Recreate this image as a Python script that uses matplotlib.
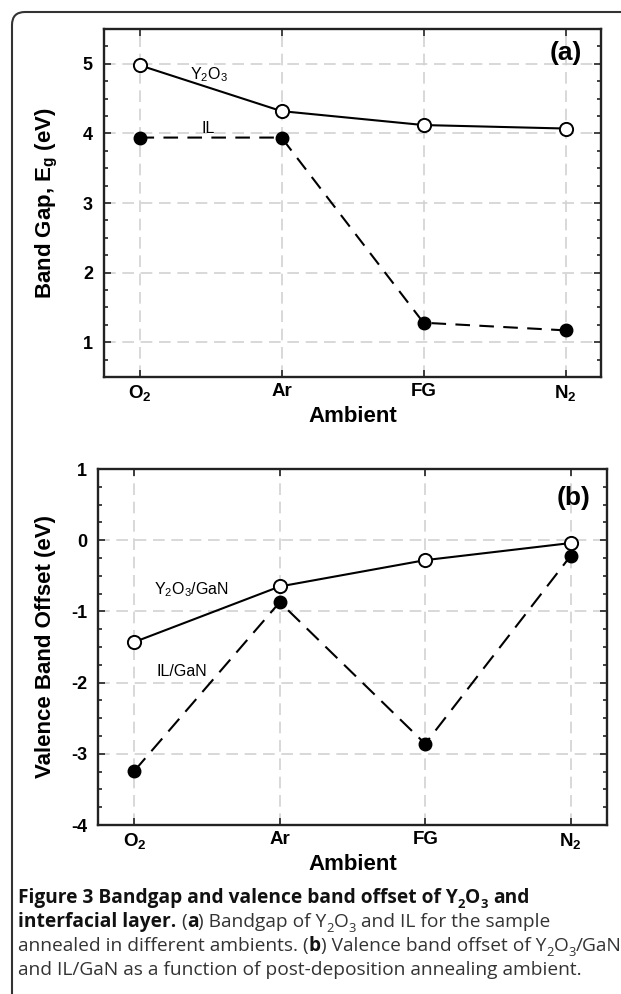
import matplotlib
matplotlib.use('Agg')
import matplotlib.pyplot as plt
import numpy as np
from matplotlib.ticker import MultipleLocator, FixedLocator, FormatStrFormatter
from matplotlib.patches import FancyBboxPatch
from matplotlib.transforms import IdentityTransform

# ---------------- data ----------------
categories = [r'O$_\mathbf{2}$', 'Ar', 'FG', r'N$_\mathbf{2}$']
bandgap_y2o3 = [4.98, 4.32, 4.12, 4.07]
bandgap_il = [3.94, 3.94, 1.28, 1.17]
vbo_y2o3 = [-1.43, -0.65, -0.28, -0.04]
vbo_il = [-3.24, -0.87, -2.86, -0.22]
yticks_a = [1, 2, 3, 4, 5]
yticks_b = [-4, -3, -2, -1, 0, 1]

plt.rcParams['font.family'] = ['Liberation Sans', 'DejaVu Sans']
plt.rcParams['mathtext.fontset'] = 'custom'
plt.rcParams['mathtext.rm'] = 'Liberation Sans'
plt.rcParams['mathtext.it'] = 'Liberation Sans'
plt.rcParams['mathtext.bf'] = 'Liberation Sans:bold'
plt.rcParams['axes.unicode_minus'] = False

W, H = 621, 994
fig = plt.figure(figsize=(W / 100, H / 100), dpi=100)
fig.patch.set_facecolor('white')


def px_axes(l, t, r, b):
    return [l / W, 1 - b / H, (r - l) / W, (b - t) / H]


ax_a = fig.add_axes(px_axes(104, 29, 601, 377))
ax_b = fig.add_axes(px_axes(98, 469, 607, 825))

x = np.arange(len(categories))


def style(ax, ylim, yticks):
    ax.set_xlim(-0.25, 3.25)
    ax.set_ylim(*ylim)
    ax.set_xticks(x)
    ax.set_xticklabels(categories, fontsize=13.5, fontweight='bold')
    ax.yaxis.set_major_locator(FixedLocator(yticks))
    ax.yaxis.set_major_formatter(FormatStrFormatter('%d'))
    ax.yaxis.set_minor_locator(MultipleLocator(0.25))
    for lab in ax.get_yticklabels():
        lab.set_fontweight('bold')
        lab.set_fontsize(13)
    ax.tick_params(which='both', direction='in', top=True, right=True,
                   width=1.2, color='#222222')
    ax.tick_params(which='major', length=5)
    ax.tick_params(which='minor', length=3)
    ax.tick_params(axis='x', which='minor', bottom=False, top=False)
    ax.tick_params(axis='y', pad=8)
    ax.tick_params(axis='x', pad=4)
    ax.grid(True, which='major', color='#d2d2d2', lw=1.2, linestyle=(0, (7, 4)))
    ax.set_axisbelow(True)
    for s in ax.spines.values():
        s.set_linewidth(1.7)
        s.set_color('#222222')
    ax.set_xlabel('Ambient', fontsize=16, fontweight='bold', va='center')


style(ax_a, (0.5, 5.5), yticks_a)
style(ax_b, (-4, 1), yticks_b)

# panel a
ax_a.plot(x, bandgap_il, color='black', lw=1.5, dashes=(7, 4.5), marker='o',
          ms=9, mfc='black', mec='black', zorder=3)
ax_a.plot(x, bandgap_y2o3, color='black', lw=1.5, linestyle='-', marker='o',
          ms=9.5, mfc='white', mec='black', mew=1.4, zorder=4)
ax_a.text(0.486, 4.84, r'Y$_2$O$_3$', fontsize=11.5, ha='center', va='center')
ax_a.text(0.486, 4.07, 'IL', fontsize=11.5, ha='center', va='center')
ax_a.text(0.93, 0.931, '(a)', transform=ax_a.transAxes, ha='center', va='center',
          fontsize=19, fontweight='bold')
ax_a.set_ylabel(r'Band Gap, E$_\mathbf{g}$ (eV)', fontsize=16, fontweight='bold', va='center')
ax_a.yaxis.set_label_coords(-0.115, 0.5)
ax_a.xaxis.set_label_coords(0.5, -(416 - 377) / 348)

# panel b
ax_b.plot(x, vbo_il, color='black', lw=1.5, dashes=(8, 4.5), marker='o',
          ms=9, mfc='black', mec='black', zorder=3)
ax_b.plot(x, vbo_y2o3, color='black', lw=1.5, linestyle='-', marker='o',
          ms=9.5, mfc='white', mec='black', mew=1.4, zorder=4)
ax_b.text(0.39, -0.70, r'Y$_2$O$_3$/GaN', fontsize=11.5, ha='center', va='center')
ax_b.text(0.327, -1.85, 'IL/GaN', fontsize=11.5, ha='center', va='center')
ax_b.text(0.935, 0.918, '(b)', transform=ax_b.transAxes, ha='center', va='center',
          fontsize=19, fontweight='bold')
ax_b.set_ylabel('Valence Band Offset (eV)', fontsize=16, fontweight='bold', va='center')
ax_b.yaxis.set_label_coords(-(98 - 46) / 509, 0.5)
ax_b.xaxis.set_label_coords(0.5, -(864 - 825) / 356)

# border box (pixel coordinates, origin bottom-left)
box = FancyBboxPatch((12, -40), 660, H - 12 + 40, boxstyle='round,pad=0,rounding_size=13',
                     transform=IdentityTransform(), fill=False, ec='#333333', lw=1.5,
                     clip_on=False)
fig.add_artist(box)

# caption
renderer = fig.canvas.get_renderer()
CAP_FS = 13.8
BOLD_C = '#111111'
REG_C = '#333333'


def text_width(s, weight, size):
    t = fig.text(0, 0, s, fontsize=size, fontweight=weight, family='Open Sans')
    w = t.get_window_extent(renderer).width
    t.remove()
    return w


def draw_runs(runs, x0, baseline):
    xp = x0
    for s, weight, kind in runs:
        size = CAP_FS if kind == 'n' else CAP_FS * 0.68
        dy = 0 if kind == 'n' else -CAP_FS * 0.28 * 100 / 72
        sw = text_width('x x', weight, size) - text_width('xx', weight, size)
        lead = len(s) - len(s.lstrip(' '))
        trail = len(s) - len(s.rstrip(' '))
        core = s.strip(' ')
        xp += lead * sw
        if core:
            t = fig.text(xp / W, 1 - (baseline - dy) / H, core, fontsize=size,
                         fontweight=weight, family='Open Sans',
                         color=BOLD_C if weight == 'bold' else REG_C,
                         ha='left', va='baseline')
            xp += t.get_window_extent(renderer).width
        xp += trail * sw


lines = [
    [('Figure 3 Bandgap and valence band offset of Y', 'bold', 'n'), ('2', 'bold', 's'),
     ('O', 'bold', 'n'), ('3', 'bold', 's'), (' and', 'bold', 'n')],
    [('interfacial layer.', 'bold', 'n'), (' (', 'normal', 'n'), ('a', 'bold', 'n'),
     (') Bandgap of Y', 'normal', 'n'), ('2', 'normal', 's'), ('O', 'normal', 'n'),
     ('3', 'normal', 's'), (' and IL for the sample', 'normal', 'n')],
    [('annealed in different ambients. (', 'normal', 'n'), ('b', 'bold', 'n'),
     (') Valence band offset of Y', 'normal', 'n'), ('2', 'normal', 's'), ('O', 'normal', 'n'),
     ('3', 'normal', 's'), ('/GaN', 'normal', 'n')],
    [('and IL/GaN as a function of post-deposition annealing ambient.', 'normal', 'n')],
]
baselines = [903, 927, 951, 975]
for runs, bl in zip(lines, baselines):
    draw_runs(runs, 18, bl)

fig.savefig('out.png', dpi=100)
